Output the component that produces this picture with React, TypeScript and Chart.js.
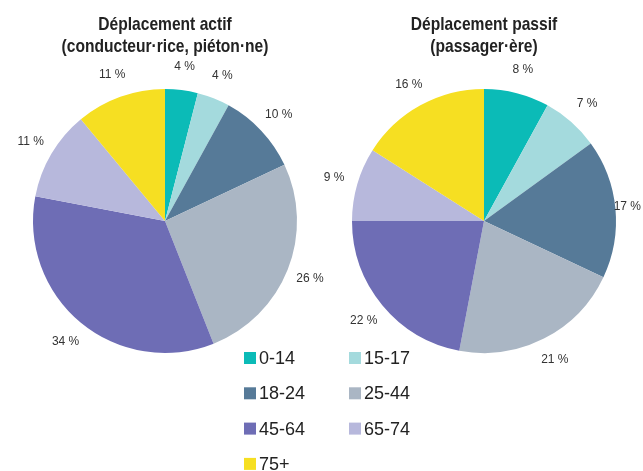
import React, { useEffect, useRef } from "react";
import { Chart, registerables } from "chart.js";

Chart.register(...registerables);

const categories = ["0-14", "15-17", "18-24", "25-44", "45-64", "65-74", "75+"];
const activeValues = [4, 4, 10, 26, 34, 11, 11];
const passiveValues = [8, 7, 17, 21, 22, 9, 16];
const colors = ["#0bbbb7", "#a4dadd", "#567a98", "#aab6c4", "#6e6db5", "#b7b8dc", "#f6df22"];
const activeTitle = ["Déplacement actif", "(conducteur·rice, piéton·ne)"];
const passiveTitle = ["Déplacement passif", "(passager·ère)"];

const labelPlugin = {
  id: "outerLabels",
  afterDatasetsDraw(chart: any) {
    const ctx = chart.ctx;
    const meta = chart.getDatasetMeta(0);
    const data = chart.data.datasets[0].data;
    ctx.save();
    ctx.font = "12px 'Liberation Sans', Arial, sans-serif";
    ctx.fillStyle = "#333333";
    ctx.textAlign = "center";
    ctx.textBaseline = "middle";
    meta.data.forEach((arc: any, i: number) => {
      const p = arc.getProps(["x", "y", "startAngle", "endAngle", "outerRadius"], true);
      const mid = (p.startAngle + p.endAngle) / 2;
      const r = p.outerRadius + 24;
      const text = data[i] + " %";
      const half = ctx.measureText(text).width / 2;
      let x = p.x + Math.cos(mid) * r;
      x = Math.min(Math.max(x, half + 2), chart.width - half - 2);
      ctx.fillText(text, x, p.y + Math.sin(mid) * r);
    });
    // title
    const lines: string[] = chart.options.plugins.pieTitle.lines;
    const cx = (chart.chartArea.left + chart.chartArea.right) / 2;
    ctx.font = "bold 19px 'Liberation Sans', Arial, sans-serif";
    ctx.fillStyle = "#222222";
    ctx.textBaseline = "alphabetic";
    lines.forEach((l, k) => {
      ctx.save();
      ctx.translate(cx, 30 + k * 22);
      ctx.scale(0.82, 1);
      ctx.fillText(l, 0, 0);
      ctx.restore();
    });
    ctx.restore();
  },
};

const legendPlugin = {
  id: "gridLegend",
  afterDraw(chart: any) {
    if (!chart.options.plugins.gridLegend.show) return;
    const ctx = chart.ctx;
    ctx.save();
    ctx.font = "18px 'Liberation Sans', Arial, sans-serif";
    ctx.textAlign = "left";
    ctx.textBaseline = "middle";
    categories.forEach((c, i) => {
      const col = i % 2;
      const row = Math.floor(i / 2);
      const x = 244 + col * 105;
      const y = 358 + row * 35.3;
      ctx.fillStyle = colors[i];
      ctx.fillRect(x, y - 6, 12, 12);
      ctx.fillStyle = "#222222";
      ctx.fillText(c, x + 15, y + 1);
    });
    ctx.restore();
  },
};

function makeConfig(values: number[], title: string[], padding: any, showLegend: boolean): any {
  return {
    type: "pie",
    data: {
      labels: categories,
      datasets: [{ data: values, backgroundColor: colors, borderWidth: 0 }],
    },
    options: {
      responsive: false,
      animation: false,
      devicePixelRatio: 1,
      layout: { padding },
      plugins: {
        legend: { display: false },
        tooltip: { enabled: false },
        pieTitle: { lines: title },
        gridLegend: { show: showLegend },
      },
    },
    plugins: [labelPlugin, legendPlugin],
  };
}

export default function App() {
  const leftRef = useRef<HTMLCanvasElement>(null);
  const rightRef = useRef<HTMLCanvasElement>(null);
  useEffect(() => {
    const c1 = new Chart(
      leftRef.current!,
      makeConfig(activeValues, activeTitle, { left: 33, right: 346, top: 89, bottom: 118 }, false)
    );
    const c2 = new Chart(
      rightRef.current!,
      makeConfig(passiveValues, passiveTitle, { left: 352, right: 27, top: 89, bottom: 118 }, true)
    );
    return () => {
      c1.destroy();
      c2.destroy();
    };
  }, []);
  const style: React.CSSProperties = { position: "absolute", left: 0, top: 0, width: 643, height: 471 };
  return (
    <div style={{ position: "absolute", left: 0, top: 0, width: 643, height: 471, background: "#fff" }}>
      <canvas ref={leftRef} width={643} height={471} style={style} />
      <canvas ref={rightRef} width={643} height={471} style={style} />
    </div>
  );
}
